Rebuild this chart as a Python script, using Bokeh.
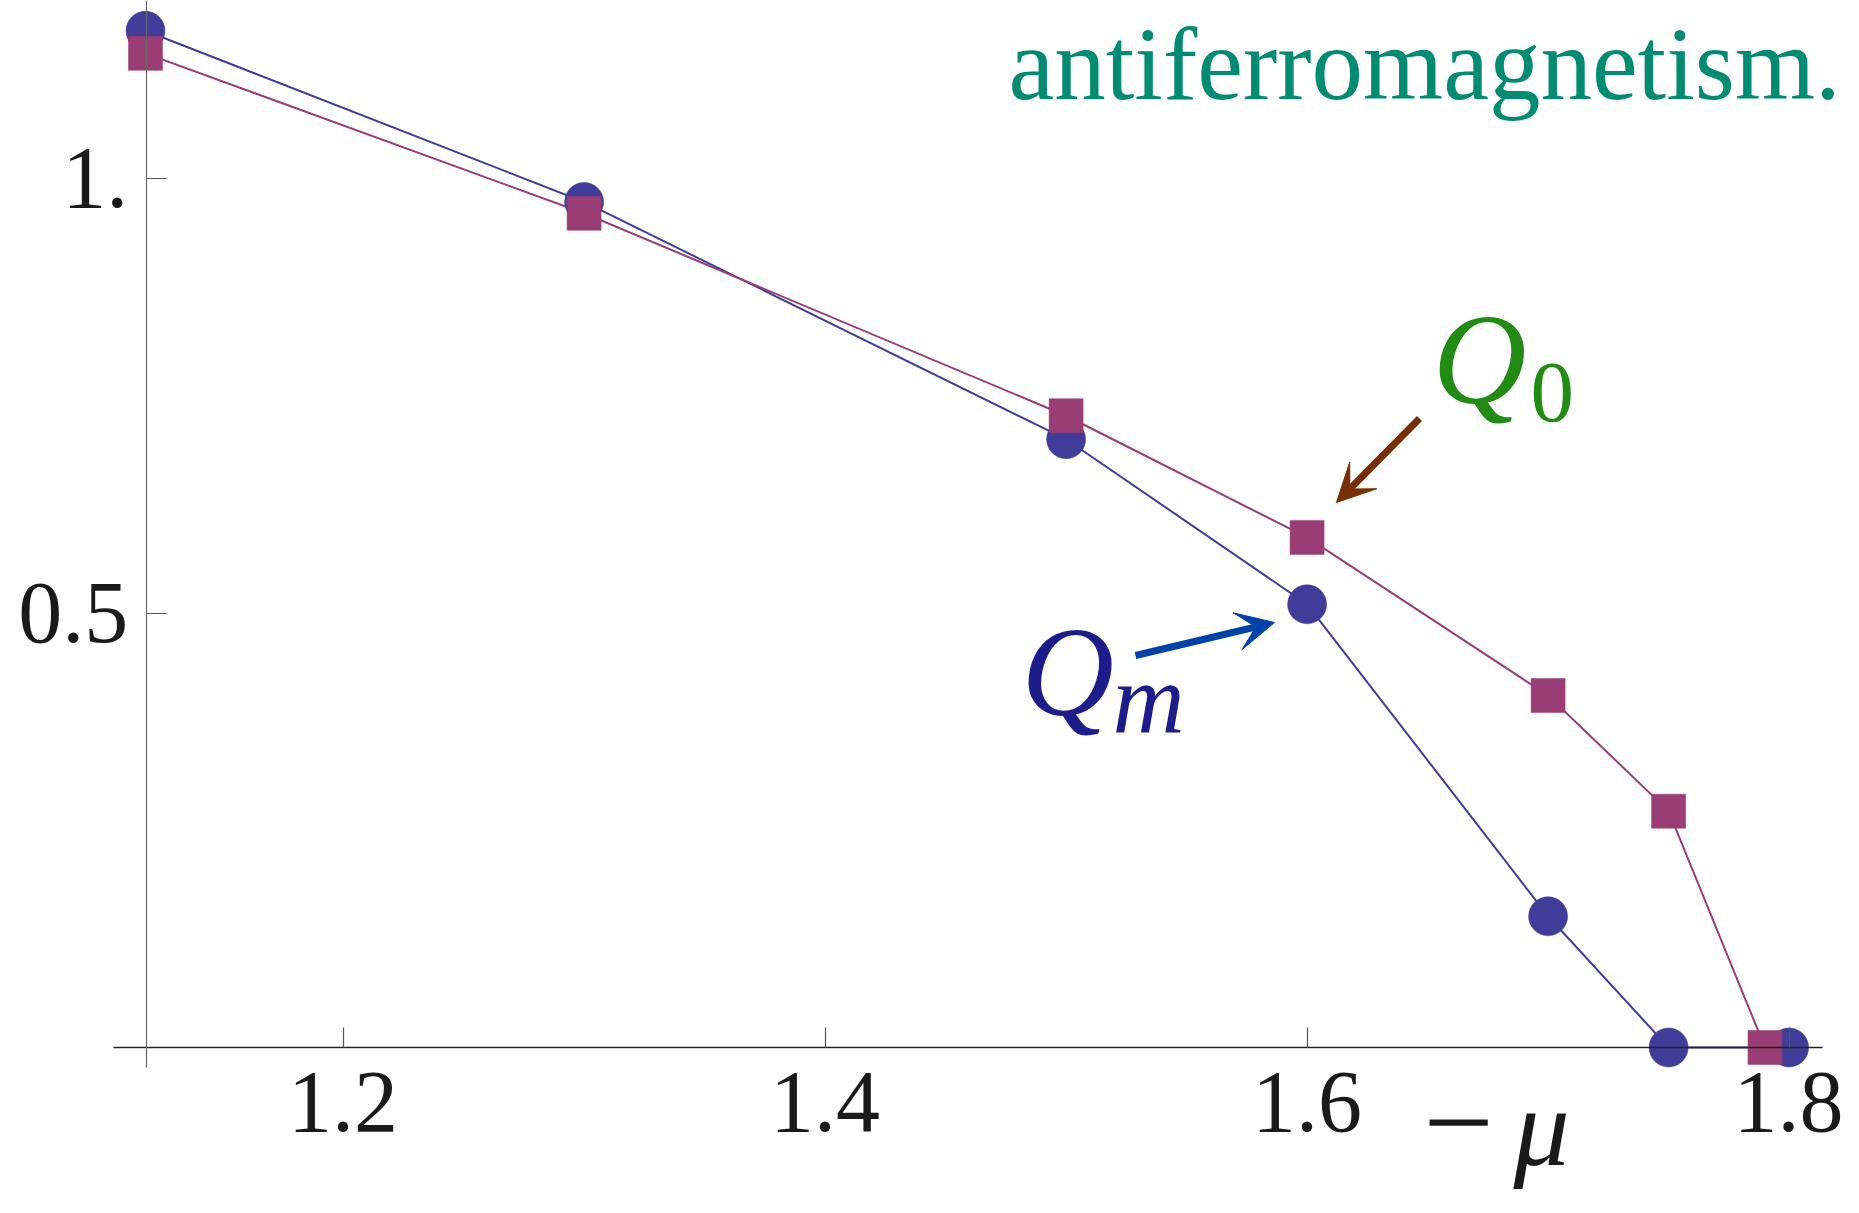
from bokeh.plotting import figure
from bokeh.models import Range1d, FixedTicker, CustomJSTickFormatter, Label, Arrow, VeeHead
from bokeh.embed import file_html
from bokeh.resources import INLINE

# data
mu_m = [1.118, 1.3, 1.5, 1.6, 1.7, 1.75, 1.8]
q_m = [1.170, 0.973, 0.700, 0.510, 0.151, 0.0, 0.0]
mu_0 = [1.118, 1.3, 1.5, 1.6, 1.7, 1.75, 1.79]
q_0 = [1.144, 0.960, 0.727, 0.587, 0.405, 0.272, 0.0]
x_ticks = [1.2, 1.4, 1.6, 1.8]
y_ticks = [0.5, 1.0]

BLUE = "#3F3D99"
MAG = "#993D74"
SERIF = "Liberation Serif"

p = figure(width=1843, height=1197, output_backend="svg", toolbar_location=None,
           x_range=Range1d(1.057842, 1.822573), y_range=Range1d(-0.172612, 1.204833),
           min_border=0)
p.outline_line_color = None
p.xgrid.visible = False
p.ygrid.visible = False
p.background_fill_color = "white"
p.border_fill_color = "white"

p.line(mu_m, q_m, line_color=BLUE, line_width=2)
p.line(mu_0, q_0, line_color=MAG, line_width=2)
p.scatter(mu_m, q_m, marker="circle", size=39, fill_color=BLUE, line_color=BLUE, line_width=0.5)
p.scatter(mu_0, q_0, marker="square", size=34, fill_color=MAG, line_color=MAG, line_width=0.5)

for ax in (p.xaxis[0], p.yaxis[0]):
    ax.major_tick_in = 20
    ax.major_tick_out = 0
    ax.minor_tick_in = 0
    ax.minor_tick_out = 0
    ax.major_label_text_font = SERIF
    ax.major_label_text_font_size = "88px"
    ax.major_label_text_color = "#1a1a1a"

xa = p.xaxis[0]
xa.fixed_location = 0
xa.bounds = (1.1049, 1.8139)
xa.ticker = FixedTicker(ticks=x_ticks)
xa.axis_line_color = "#222222"
xa.axis_line_width = 1.5
xa.major_tick_line_color = "#555555"
xa.major_tick_line_width = 1.2
xa.major_label_standoff = 25
xa.formatter = CustomJSTickFormatter(code="return tick.toFixed(1);")

ya = p.yaxis[0]
ya.fixed_location = 1.1183
ya.bounds = (-0.023, 1.21)
ya.ticker = FixedTicker(ticks=y_ticks)
ya.axis_line_color = "#666666"
ya.axis_line_width = 1.2
ya.major_tick_line_color = "#555555"
ya.major_tick_line_width = 1.2
ya.major_label_standoff = 18
ya.formatter = CustomJSTickFormatter(code="return tick == 1 ? '1.' : tick.toFixed(1);")

def lab(x, y, text, size, color, style="normal"):
    p.add_layout(Label(x=x, y=y, text=text, text_font=SERIF, text_font_size=size,
                       text_color=color, text_font_style=style, text_baseline="alphabetic",
                       text_align="left"))

lab(1.4761, 1.13119, "antiferromagnetism.", "103px", "#008B72")
lab(1.65203, 0.79194, "Q", "130px", "#228B14", "italic")
lab(1.69270, 0.75328, "0", "87px", "#228B14")
lab(1.48150, 0.43211, "Q", "128px", "#1C1C8A", "italic")
lab(1.51925, 0.40161, "m", "100px", "#1C1C8A", "italic")
lab(1.64830, -0.08688, "\u2212", "125px", "#1a1a1a")
lab(1.68564, -0.09137, "\u03bc", "112px", "#1a1a1a", "italic")

p.add_layout(Arrow(x_start=1.64664, y_start=0.72382, x_end=1.61220, y_end=0.62716,
                   line_color="#762E02", line_width=7,
                   end=VeeHead(size=38, fill_color="#762E02", line_color="#762E02")))
p.add_layout(Arrow(x_start=1.52880, y_start=0.45109, x_end=1.58647, y_end=0.48907,
                   line_color="#0042A8", line_width=7,
                   end=VeeHead(size=38, fill_color="#0042A8", line_color="#0042A8")))

open("out.html", "w").write(file_html(p, INLINE))
